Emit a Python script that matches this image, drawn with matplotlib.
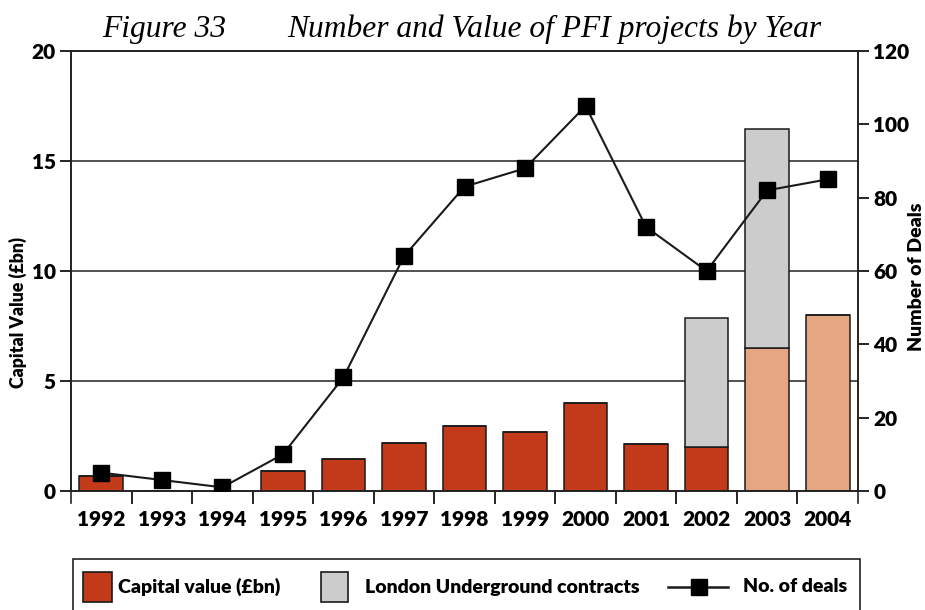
import matplotlib
matplotlib.use("Agg")
import matplotlib.pyplot as plt
from matplotlib.lines import Line2D
from matplotlib.patches import Rectangle
import numpy as np

years = ["1992", "1993", "1994", "1995", "1996", "1997", "1998",
         "1999", "2000", "2001", "2002", "2003", "2004"]
capital_value = [0.7, 0.0, 0.0, 0.9, 1.45, 2.2, 2.95, 2.7, 4.0, 2.15, 2.0, 6.5, 8.0]
underground = [0, 0, 0, 0, 0, 0, 0, 0, 0, 0, 5.85, 9.95, 0]
num_deals = [5, 3, 1, 10, 31, 64, 83, 88, 105, 72, 60, 82, 85]
left_ticks = [0, 5, 10, 15, 20]
right_ticks = [0, 20, 40, 60, 80, 100, 120]

RED = "#c23a1a"
ORANGE = "#e4a781"
GREY = "#cccccc"
INK = "#1a1a1a"
FONT = "Lato"
WEIGHT = "heavy"

W, H = 925, 610


def fx(px):
    return px / W


def fy(py):
    return 1 - py / H


# the last two years are drawn in a lighter shade
bar_colors = [RED] * 11 + [ORANGE] * 2

fig = plt.figure(figsize=(W / 100, H / 100), dpi=100)
ax = fig.add_axes([fx(71), fy(491), (858 - 71) / W, (491 - 51) / H])

x = np.arange(len(years))
ax.set_xlim(-0.5, len(years) - 0.5)
ax.set_ylim(0, 20)

for y in left_ticks[1:4]:
    ax.axhline(y, color="#222222", lw=1.1, zorder=0)

ax.bar(x, capital_value, width=0.72, color=bar_colors, edgecolor=INK,
       linewidth=1.1, zorder=2)
ax.bar(x, underground, width=0.72, bottom=capital_value, color=GREY,
       edgecolor=INK, linewidth=1.1, zorder=2)

ax2 = ax.twinx()
ax2.set_ylim(0, 120)
ax2.plot(x, num_deals, color=INK, lw=1.5, marker="s", ms=11.5,
         mfc="black", mec="black", zorder=5)

for a in (ax, ax2):
    for s in a.spines.values():
        s.set_color("#222222")
        s.set_linewidth(1.2)

ax.set_yticks(left_ticks)
ax2.set_yticks(right_ticks)
ax.set_xticks(x)
ax.set_xticklabels(years)
ax.set_xticks(np.arange(0.5, len(years) - 1, 1.0), minor=True)
ax.tick_params(axis="x", which="major", length=0, pad=14)
ax.tick_params(axis="x", which="minor", length=9, width=1.2, direction="out")
ax.tick_params(axis="y", length=8, width=1.2, direction="out", pad=3)
ax2.tick_params(axis="y", length=8, width=1.2, direction="out", pad=3)

for lab in ax.get_xticklabels() + ax.get_yticklabels() + ax2.get_yticklabels():
    lab.set_family(FONT)
    lab.set_fontweight(WEIGHT)
    lab.set_fontsize(15)

# vertical axis lines extend a little below the baseline
for xa in (0, 1):
    ax.plot([xa, xa], [0, -0.027], transform=ax.transAxes, color="#222222",
            lw=1.2, clip_on=False)

fig.text(fx(18), fy(312), "Capital Value (£bn)", rotation=90,
         ha="center", va="center", family=FONT, fontweight=WEIGHT,
         fontsize=12.8)
fig.text(fx(916), fy(277), "Number of Deals", rotation=90,
         ha="center", va="center", family=FONT, fontweight=WEIGHT,
         fontsize=14)

fig.text(fx(102), fy(37), "Figure 33", family="Liberation Serif",
         style="italic", fontsize=22.7, va="baseline", ha="left")
fig.text(fx(287), fy(37), "Number and Value of PFI projects by Year",
         family="Liberation Serif", style="italic", fontsize=22.7,
         va="baseline", ha="left")

# legend panel, running off the bottom edge
fig.patches.append(Rectangle((fx(73), fy(H + 10)), (860 - 73) / W,
                             (H + 10 - 559) / H, transform=fig.transFigure,
                             fill=False, edgecolor="#222222", lw=1.2))
legend_y = 587
fig.patches.append(Rectangle((fx(83), fy(602)), 29 / W, 30 / H,
                             transform=fig.transFigure, facecolor=RED,
                             edgecolor=INK, lw=1.2))
fig.patches.append(Rectangle((fx(321), fy(602)), 27 / W, 30 / H,
                             transform=fig.transFigure, facecolor=GREY,
                             edgecolor=INK, lw=1.2))
fig.lines.append(Line2D([fx(668), fx(728)], [fy(legend_y), fy(legend_y)],
                        transform=fig.transFigure, color=INK, lw=1.8))
fig.lines.append(Line2D([fx(699)], [fy(legend_y)], transform=fig.transFigure,
                        marker="s", ms=11.5, color="black", lw=0))
for xpos, txt in [(118, "Capital value (£bn)"),
                  (365, "London Underground contracts"),
                  (743, "No. of deals")]:
    fig.text(fx(xpos), fy(legend_y), txt, ha="left", va="center",
             family=FONT, fontweight=WEIGHT, fontsize=14)

fig.savefig("out.png", dpi=100)
